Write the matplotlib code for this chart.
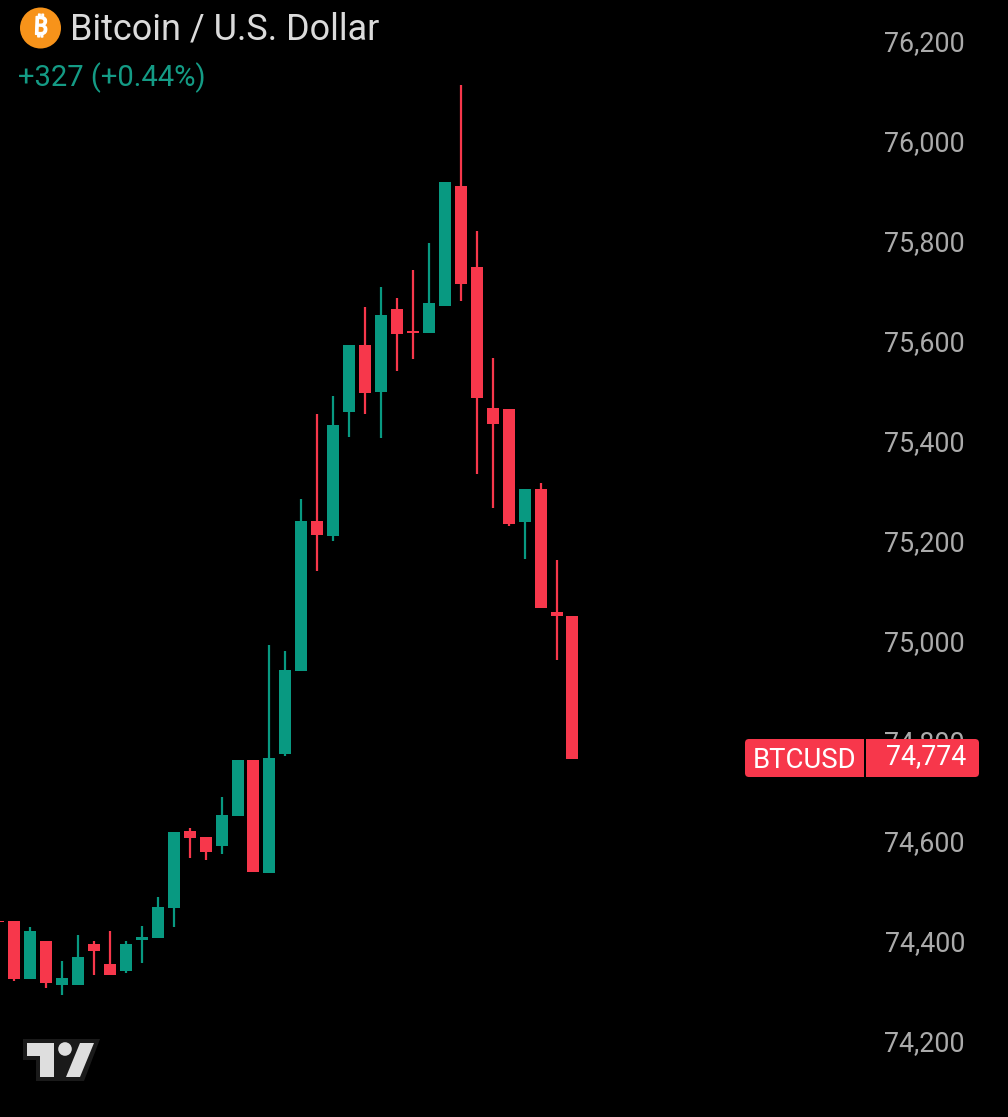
from matplotlib import pyplot as plt
from matplotlib.patches import Circle, FancyBboxPatch, Polygon, Rectangle
from matplotlib.transforms import ScaledTranslation
import matplotlib.patheffects as pe
import numpy as np

plt.rcParams['font.family'] = ['Roboto', 'DejaVu Sans']

# velas BTCUSD (la primera queda casi fuera del grafico)
opens = [74451, 74450, 74334, 74410, 74322, 74322, 74404, 74364, 74350, 74412, 74416, 74476,
         74630, 74618, 74600, 74660, 74772, 74546, 74784, 74950, 75250, 75220, 75468, 75602,
         75508, 75674, 75630, 75626, 75680, 75920, 75758, 75476, 75474, 75248, 75314, 75068, 75060]
highs = [74451, 74450, 74438, 74410, 74370, 74422, 74410, 74430, 74410, 74440, 74498, 74628,
         74636, 74618, 74698, 74772, 74772, 75002, 74990, 75294, 75464, 75500, 75602, 75678,
         75718, 75696, 75752, 75806, 75928, 76122, 75830, 75576, 75474, 75314, 75326, 75172, 75060]
lows = [74448, 74330, 74334, 74316, 74302, 74322, 74342, 74342, 74346, 74366, 74416, 74438,
        74576, 74572, 74584, 74660, 74548, 74546, 74780, 74950, 75150, 75210, 75418, 75464,
        75416, 75550, 75574, 75626, 75680, 75690, 75344, 75276, 75240, 75174, 75076, 74972, 74774]
closes = [74448, 74334, 74430, 74326, 74336, 74378, 74390, 74342, 74404, 74418, 74478, 74628,
          74616, 74588, 74662, 74772, 74548, 74776, 74952, 75250, 75222, 75442, 75602, 75506,
          75662, 75624, 75626, 75686, 75928, 75724, 75496, 75444, 75244, 75314, 75076, 75060, 74774]
price_ticks = [74200, 74400, 74600, 74800, 75000, 75200, 75400, 75600, 75800, 76000, 76200]

titulo = "Bitcoin / U.S. Dollar"
cambio = "+327 (+0.44%)"
simbolo = "BTCUSD"
ultimo = "74,774"

VERDE = "#089981"
ROJO = "#F7374B"

opens = np.array(opens)
closes = np.array(closes)
highs = np.array(highs)
lows = np.array(lows)
x = np.arange(len(opens)) - 1
colores = [VERDE if c >= o else ROJO for o, c in zip(opens, closes)]

fig = plt.figure(figsize=(10.08, 11.17), dpi=100, facecolor="black")
ax = fig.add_axes([0, 0, 1, 1], facecolor="black")

paso = 15.95
ax.set_xlim(-14.2 / paso, 993.8 / paso)
ax.set_ylim(74058, 76292)

ax.vlines(x, lows, highs, colors=colores, linewidth=1.6, zorder=2)
ax.bar(x, np.abs(closes - opens), bottom=np.minimum(opens, closes), width=12 / paso,
       color=colores, linewidth=0, zorder=3)

for s in ax.spines.values():
    s.set_visible(False)
ax.set_xticks([])
ax.yaxis.tick_right()
ax.set_yticks(price_ticks)
ax.set_yticklabels([f"{p:,}" for p in price_ticks])
ax.tick_params(axis="y", length=0, pad=-43 * 72 / 100, labelsize=19.4, labelcolor="#ABABAB")
subir = ScaledTranslation(0, 5.5 / 100, fig.dpi_scale_trans)
for lab in ax.get_yticklabels():
    lab.set_ha("right")
    lab.set_transform(lab.get_transform() + subir)

# capa en pixeles para cabecera, etiqueta y logo
capa = fig.add_axes([0, 0, 1, 1])
capa.set_xlim(0, 1008)
capa.set_ylim(1117, 0)
capa.axis("off")
capa.patch.set_alpha(0)

capa.add_patch(Circle((40.5, 28), 20.5, facecolor="#F7931A", linewidth=0))
capa.text(40.5, 28, "₿", color="white", fontsize=18, fontweight="bold", rotation=-2,
          ha="center", va="center",
          path_effects=[pe.withStroke(linewidth=1, foreground="white")],
          family=["Noto Sans", "Inter", "Open Sans", "Lato", "Liberation Sans", "DejaVu Sans"])
capa.text(70, 29.5, titulo, color="#DBDBDB", fontsize=25.9, ha="left", va="center")
capa.text(18, 77.5, cambio, color="#149B85", fontsize=21, ha="left", va="center")

capa.add_patch(FancyBboxPatch((745, 739), 234, 38, boxstyle="round,pad=0,rounding_size=4",
                              facecolor=ROJO, linewidth=0))
capa.add_patch(Rectangle((864, 739), 1.6, 38, facecolor="black", linewidth=0))
capa.text(805, 760, simbolo, color="white", fontsize=19.8, ha="center", va="center")
capa.text(966, 757, ultimo, color="white", fontsize=19.4, ha="right", va="center")

# logo TradingView
logo_fondo = [(23, 1039), (100, 1039), (84, 1081), (36, 1081), (36, 1060), (23, 1060)]
logo_t = [(27, 1043), (54, 1043), (54, 1077), (40, 1077), (40, 1056), (27, 1056)]
logo_barra = [(80, 1043), (94, 1043), (80, 1077), (66, 1077)]
capa.add_patch(Polygon(logo_fondo, closed=True, facecolor="#1A1A1A", linewidth=0))
capa.add_patch(Polygon(logo_t, closed=True, facecolor="#DEDEDE", linewidth=0))
capa.add_patch(Polygon(logo_barra, closed=True, facecolor="#DEDEDE", linewidth=0))
capa.add_patch(Circle((65, 1049), 6.8, facecolor="#DEDEDE", linewidth=0))

plt.savefig("out.png", dpi=100, facecolor="black")
